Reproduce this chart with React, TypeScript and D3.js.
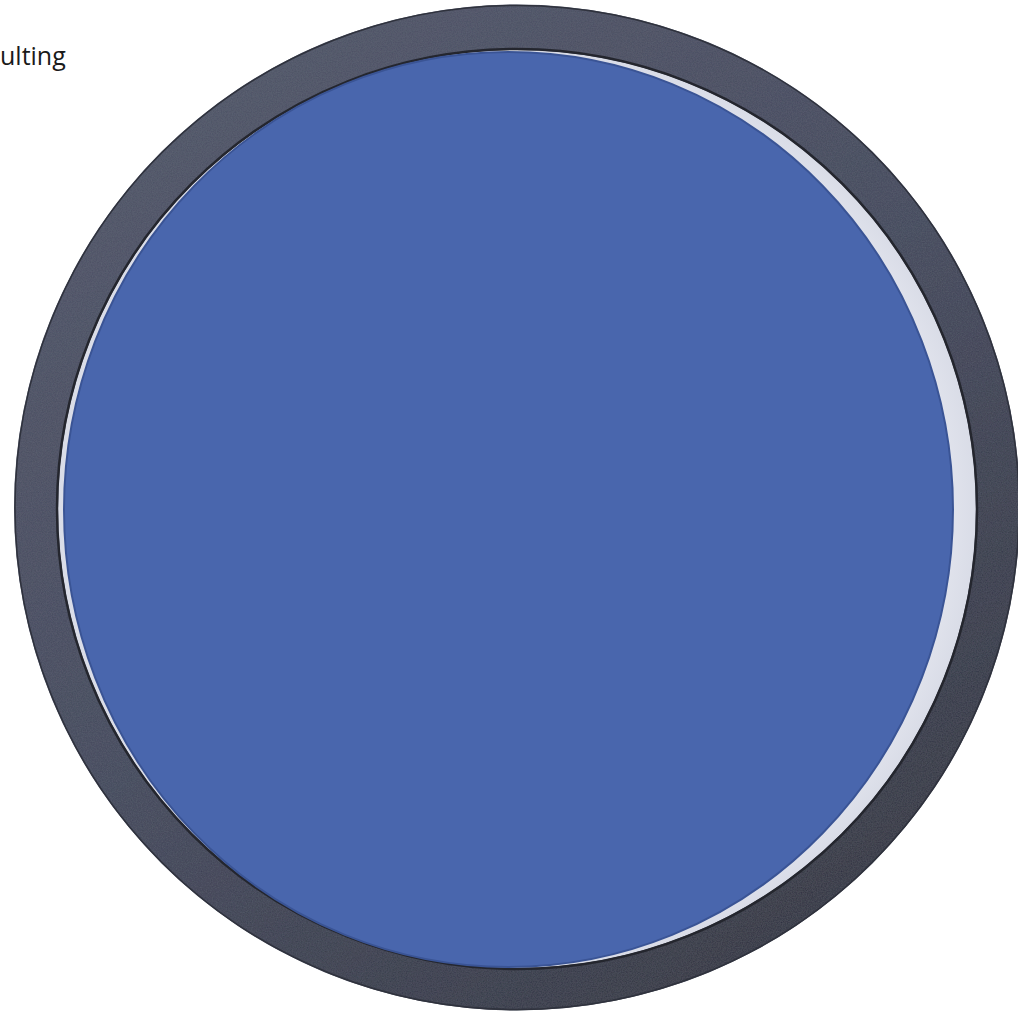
import React from "react";
import * as d3 from "d3";

const categories = ["Consulting"];
const values = [100];
const labelText = "ulting";

const W = 1018;
const H = 1015;

export default function App() {
  const pie = d3.pie<number>().sort(null).value((d) => d);
  const arcs = pie(values);
  const pieR = 451;
  const arcGen = d3.arc<d3.PieArcDatum<number>>().innerRadius(0).outerRadius(pieR);
  const sx = 444.5 / pieR;
  const sy = 457.5 / pieR;

  // frame geometry
  const fo = { cx: 517, cy: 507.5, r: 503 };
  const fi = { cx: 517, cy: 509, r: 459 };
  const circ = (c: { cx: number; cy: number; r: number }) => {
    const p = d3.path();
    p.moveTo(c.cx + c.r, c.cy);
    p.arc(c.cx, c.cy, c.r, 0, Math.PI * 2);
    p.closePath();
    return p.toString();
  };
  const ringPath = circ(fo) + circ(fi);

  return (
    <svg
      width={W}
      height={H}
      style={{ position: "absolute", left: 0, top: 0, display: "block" }}
    >
      <defs>
        <linearGradient id="frameGrad" x1="0.15" y1="0" x2="0.85" y2="1">
          <stop offset="0%" stopColor="#4f5467" />
          <stop offset="50%" stopColor="#41465a" />
          <stop offset="100%" stopColor="#2b2e3a" />
        </linearGradient>
        <filter id="grain" x="0" y="0" width="100%" height="100%">
          <feTurbulence type="fractalNoise" baseFrequency="0.8" numOctaves={2} seed={3} result="noise" />
          <feColorMatrix
            in="noise"
            type="matrix"
            values="0 0 0 0 0.3  0 0 0 0 0.32  0 0 0 0 0.38  0 0 0 0.18 0"
            result="tinted"
          />
          <feComposite in="tinted" in2="SourceGraphic" operator="in" result="grainOnly" />
          <feMerge>
            <feMergeNode in="SourceGraphic" />
            <feMergeNode in="grainOnly" />
          </feMerge>
        </filter>
        <radialGradient id="mirrorGrad" cx="0.5" cy="0.5" r="0.5">
          <stop offset="90%" stopColor="#e6e8f0" />
          <stop offset="100%" stopColor="#d9dce7" />
        </radialGradient>
      </defs>
      <rect x={0} y={0} width={W} height={H} fill="#ffffff" />
      {/* mirror light area */}
      <circle cx={fi.cx} cy={fi.cy} r={fi.r + 1} fill="url(#mirrorGrad)" />
      {/* frame ring */}
      <path d={ringPath} fillRule="evenodd" fill="url(#frameGrad)" filter="url(#grain)" />
      <circle cx={fo.cx} cy={fo.cy} r={fo.r - 1} fill="none" stroke="#2f323d" strokeWidth={1.5} />
      <circle cx={fi.cx} cy={fi.cy} r={fi.r + 1} fill="none" stroke="#24262e" strokeWidth={2.5} />
      {/* pie */}
      <g transform={`translate(508.5,509.5) scale(${sx},${sy})`}>
        {arcs.map((a, i) => (
          <path
            key={categories[i]}
            d={arcGen(a) || ""}
            fill="#4966ad"
            stroke="#3a5495"
            strokeWidth={2}
          />
        ))}
      </g>
      <text
        x={0}
        y={65}
        fontFamily="'Open Sans', sans-serif"
        fontSize={25}
        fill="#1a1a1a"
      >
        {labelText}
      </text>
    </svg>
  );
}
